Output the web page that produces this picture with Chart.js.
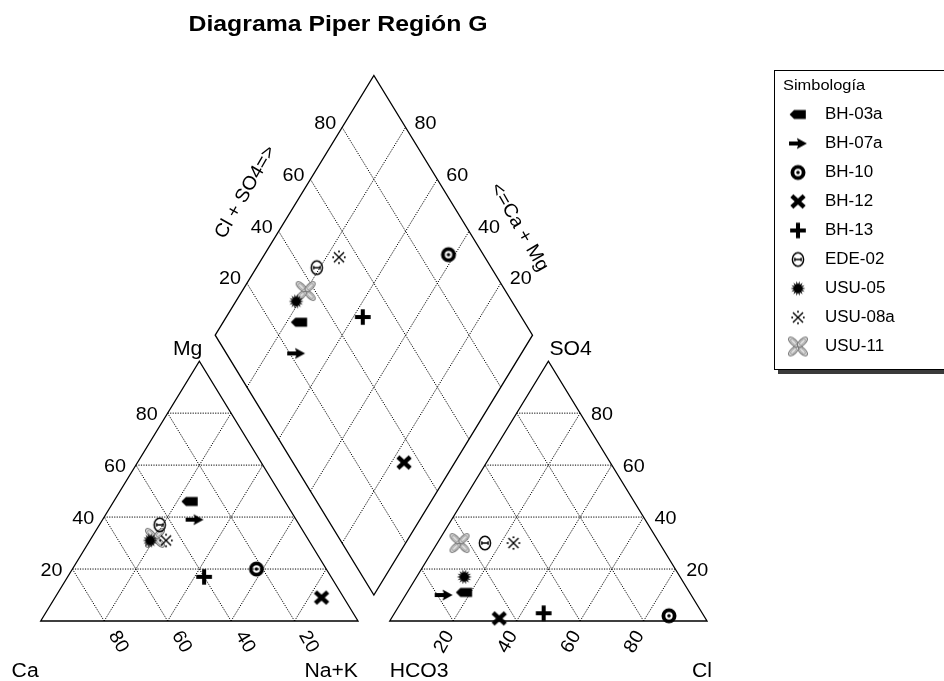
<!DOCTYPE html>
<html>
<head>
<meta charset="utf-8">
<title>Diagrama Piper Región G</title>
<script src="https://cdn.jsdelivr.net/npm/chart.js@4.4.1/dist/chart.umd.min.js"></script>
<style>
  html, body { margin: 0; padding: 0; background: #fff; overflow: hidden; }
  canvas { display: block; }
</style>
</head>
<body>
<canvas id="piper" width="944" height="681"></canvas>
<script>
// Sample names and their ionic composition (% meq/L)
const samples = ['BH-03a', 'BH-07a', 'BH-10', 'BH-12', 'BH-13', 'EDE-02', 'USU-05', 'USU-08a', 'USU-11'];
// Cations
const ca   = [30, 32, 22,  7, 40, 44, 50, 45, 48];
const mg   = [46, 39, 20,  9, 17, 37, 31, 31, 32];
const naK  = [24, 29, 58, 84, 43, 19, 19, 24, 20];
// Anions
const hco3 = [71, 78, 11, 65, 50, 55, 68, 46, 63];
const so4  = [11, 10,  2,  1,  3, 30, 17, 30, 30];
const cl   = [18, 12, 87, 34, 47, 15, 15, 24,  7];
// Percentage grid / tick labels
const gridTicks = [20, 40, 60, 80];

const TITLE = 'Diagrama Piper Región G';
const LEGEND_TITLE = 'Simbología';
const FONT = "'Liberation Sans', Arial, sans-serif";

// ---- Piper geometry (triangle side = 100 units) ----
const GAP = 10;
const H = 100 * Math.sqrt(3) / 2;
const GH = GAP * H / 100;

function cationXY(c, m, n) { return { x: n + m / 2, y: m * H / 100 }; }
function anionXY(h, s, c)  { return { x: 100 + GAP + c + s / 2, y: s * H / 100 }; }

const DL = { x: 50 + GAP / 2,  y: H + GH };       // diamond left corner
const DB = { x: 100 + GAP / 2, y: GH };           // diamond bottom corner
const DT = { x: 100 + GAP / 2, y: 2 * H + GH };   // diamond top corner
const DR = { x: 150 + GAP / 2, y: H + GH };       // diamond right corner

function diamondXY(nak, clso4) {
  return {
    x: DL.x + nak / 100 * (DB.x - DL.x) + clso4 / 100 * (DT.x - DL.x),
    y: DL.y + nak / 100 * (DB.y - DL.y) + clso4 / 100 * (DT.y - DL.y)
  };
}
function lerp(a, b, t) { return { x: a.x + (b.x - a.x) * t, y: a.y + (b.y - a.y) * t }; }

// ---- Marker symbols ----
function makeSymbol(draw) {
  const c = document.createElement('canvas');
  c.width = 28; c.height = 28;
  const g = c.getContext('2d');
  g.translate(14, 14);
  g.scale(1.12, 1.12);
  draw(g);
  return c;
}
const symbolDrawers = [
  g => { // BH-03a: tag pointing left
    g.fillStyle = '#000';
    g.beginPath();
    g.moveTo(-7.5, 0); g.lineTo(-3.5, -4); g.lineTo(7, -4); g.lineTo(7, 4); g.lineTo(-3.5, 4);
    g.closePath(); g.fill();
  },
  g => { // BH-07a: arrow to the right
    g.fillStyle = '#000';
    g.beginPath();
    g.moveTo(-8, -1.7); g.lineTo(0, -1.7); g.lineTo(-1, -4.8); g.lineTo(8, 0);
    g.lineTo(-1, 4.8); g.lineTo(0, 1.7); g.lineTo(-8, 1.7);
    g.closePath(); g.fill();
  },
  g => { // BH-10: bullseye
    g.strokeStyle = '#000'; g.lineWidth = 3.4;
    g.beginPath(); g.arc(0, 0, 5.0, 0, Math.PI * 2); g.stroke();
    g.fillStyle = '#000';
    g.beginPath(); g.arc(0, 0, 1.6, 0, Math.PI * 2); g.fill();
  },
  g => { // BH-12: bold cross
    g.strokeStyle = '#000'; g.lineWidth = 4; g.lineCap = 'butt';
    g.beginPath(); g.moveTo(-5.5, -5); g.lineTo(5.5, 5); g.moveTo(5.5, -5); g.lineTo(-5.5, 5); g.stroke();
  },
  g => { // BH-13: bold plus
    g.strokeStyle = '#000'; g.lineWidth = 3.6; g.lineCap = 'butt';
    g.beginPath(); g.moveTo(-7, 0); g.lineTo(7, 0); g.moveTo(0, -7); g.lineTo(0, 7); g.stroke();
  },
  g => { // EDE-02: theta
    g.strokeStyle = '#000'; g.lineWidth = 1.3;
    g.beginPath(); g.ellipse(0, 0, 5.0, 6, 0, 0, Math.PI * 2); g.stroke();
    g.lineWidth = 1.2;
    g.beginPath(); g.moveTo(-2.8, 0); g.lineTo(2.8, 0);
    g.moveTo(-2.8, -1.5); g.lineTo(-2.8, 1.5); g.moveTo(2.8, -1.5); g.lineTo(2.8, 1.5); g.stroke();
  },
  g => { // USU-05: starburst
    g.fillStyle = '#000';
    g.beginPath();
    const n = 14;
    for (let i = 0; i < n * 2; i++) {
      const r = i % 2 === 0 ? 6.6 : 3.7;
      const a = i * Math.PI / n;
      const x = r * Math.cos(a), y = r * Math.sin(a);
      if (i === 0) g.moveTo(x, y); else g.lineTo(x, y);
    }
    g.closePath(); g.fill();
  },
  g => { // USU-08a: reference mark
    g.strokeStyle = '#000'; g.lineWidth = 1.2;
    g.beginPath(); g.moveTo(-4.5, -4.5); g.lineTo(4.5, 4.5); g.moveTo(4.5, -4.5); g.lineTo(-4.5, 4.5); g.stroke();
    g.fillStyle = '#000';
    [[0, -5.2], [0, 5.2], [-5.2, 0], [5.2, 0]].forEach(([x, y]) => { g.beginPath(); g.arc(x, y, 0.9, 0, Math.PI * 2); g.fill(); });
  },
  g => { // USU-11: four grey petals
    for (let k = 0; k < 4; k++) {
      g.save();
      g.rotate(Math.PI / 4 + k * Math.PI / 2);
      g.fillStyle = '#e2e2e2'; g.strokeStyle = '#7a7a7a'; g.lineWidth = 1;
      g.beginPath(); g.ellipse(5.6, 0, 5.6, 2.6, 0, 0, Math.PI * 2); g.fill(); g.stroke();
      g.strokeStyle = '#9a9a9a'; g.lineWidth = 0.8;
      g.beginPath(); g.ellipse(5.6, 0, 3.6, 1.3, 0, 0, Math.PI * 2); g.stroke();
      g.restore();
    }
  }
];
const symbols = symbolDrawers.map(makeSymbol);

// ---- Datasets: cation point, anion point and diamond point for each sample ----
const datasets = samples.map((name, i) => ({
  label: name,
  data: [
    cationXY(ca[i], mg[i], naK[i]),
    anionXY(hco3[i], so4[i], cl[i]),
    diamondXY(naK[i], so4[i] + cl[i])
  ],
  pointStyle: symbols[i],
  pointRadius: 6,
  pointHoverRadius: 6,
  showLine: false,
  clip: false
}));

// ---- Drawing helpers ----
function drawText(ctx, str, x, y, o) {
  ctx.save();
  ctx.translate(x, y);
  if (o.rotate) ctx.rotate(o.rotate * Math.PI / 180);
  ctx.scale(o.sx || 1, 1);
  ctx.font = o.font;
  ctx.fillStyle = o.color || '#000';
  ctx.textAlign = o.align || 'left';
  ctx.textBaseline = o.baseline || 'middle';
  ctx.fillText(str, 0, 0);
  ctx.restore();
}

const piperFrame = {
  id: 'piperFrame',
  beforeDatasetsDraw(chart) {
    const ctx = chart.ctx;
    const sx = chart.scales.x, sy = chart.scales.y;
    const P = p => ({ x: sx.getPixelForValue(p.x), y: sy.getPixelForValue(p.y) });
    const seg = (a, b) => { const A = P(a), B = P(b); ctx.moveTo(A.x, A.y); ctx.lineTo(B.x, B.y); };
    const poly = pts => { ctx.beginPath(); pts.forEach((p, k) => { const Q = P(p); k ? ctx.lineTo(Q.x, Q.y) : ctx.moveTo(Q.x, Q.y); }); ctx.closePath(); ctx.stroke(); };

    ctx.save();
    // dotted grid
    ctx.strokeStyle = '#000';
    ctx.lineWidth = 1;
    ctx.setLineDash([1.2, 1.3]);
    ctx.beginPath();
    gridTicks.forEach(t => {
      // cation triangle
      seg(cationXY(100 - t, t, 0), cationXY(0, t, 100 - t));
      seg(cationXY(t, 0, 100 - t), cationXY(t, 100 - t, 0));
      seg(cationXY(100 - t, 0, t), cationXY(0, 100 - t, t));
      // anion triangle
      seg(anionXY(100 - t, t, 0), anionXY(0, t, 100 - t));
      seg(anionXY(t, 0, 100 - t), anionXY(t, 100 - t, 0));
      seg(anionXY(100 - t, 0, t), anionXY(0, 100 - t, t));
      // diamond
      seg(diamondXY(0, t), diamondXY(100, t));
      seg(diamondXY(t, 0), diamondXY(t, 100));
    });
    ctx.stroke();

    // outlines
    ctx.setLineDash([]);
    ctx.lineWidth = 1.3;
    poly([cationXY(100, 0, 0), cationXY(0, 100, 0), cationXY(0, 0, 100)]);
    poly([anionXY(100, 0, 0), anionXY(0, 100, 0), anionXY(0, 0, 100)]);
    poly([DL, DT, DR, DB]);

    // tick labels
    const f = '19px ' + FONT;
    const sxT = 1.04;
    gridTicks.forEach(t => {
      let q;
      q = P(cationXY(100 - t, t, 0));            // Mg on left side
      drawText(ctx, String(t), q.x - 10, q.y + 2, { font: f, align: 'right', sx: sxT });
      q = P(cationXY(t, 0, 100 - t));            // Ca along the base
      drawText(ctx, String(t), q.x + 14, q.y + 21, { font: f, align: 'center', rotate: 60, sx: sxT });
      q = P(anionXY(100 - t, 0, t));             // Cl along the base
      drawText(ctx, String(t), q.x - 9, q.y + 21, { font: f, align: 'center', rotate: -60, sx: sxT });
      q = P(anionXY(0, t, 100 - t));             // SO4 on right side
      drawText(ctx, String(t), q.x + 11, q.y + 2, { font: f, align: 'left', sx: sxT });
      q = P(lerp(DL, DT, t / 100));              // Cl + SO4 on diamond
      drawText(ctx, String(t), q.x - 6, q.y - 4, { font: f, align: 'right', sx: sxT });
      q = P(lerp(DR, DT, t / 100));              // Ca + Mg on diamond
      drawText(ctx, String(t), q.x + 9, q.y - 4, { font: f, align: 'left', sx: sxT });
    });

    // corner / axis names
    const fa = '20px ' + FONT;
    let q;
    q = P(cationXY(100, 0, 0)); drawText(ctx, 'Ca', q.x - 2, q.y + 56, { font: fa, align: 'right', baseline: 'alphabetic', sx: 1.06 });
    q = P(cationXY(0, 0, 100)); drawText(ctx, 'Na+K', q.x, q.y + 56, { font: fa, align: 'right', baseline: 'alphabetic', sx: 1.06 });
    q = P(cationXY(0, 100, 0)); drawText(ctx, 'Mg', q.x + 3, q.y - 6, { font: fa, align: 'right', baseline: 'alphabetic', sx: 1.06 });
    q = P(anionXY(100, 0, 0)); drawText(ctx, 'HCO3', q.x, q.y + 56, { font: fa, align: 'left', baseline: 'alphabetic', sx: 1.06 });
    q = P(anionXY(0, 0, 100)); drawText(ctx, 'Cl', q.x + 5, q.y + 56, { font: fa, align: 'right', baseline: 'alphabetic', sx: 1.06 });
    q = P(anionXY(0, 100, 0)); drawText(ctx, 'SO4', q.x + 1, q.y - 6, { font: fa, align: 'left', baseline: 'alphabetic', sx: 1.06 });

    // diamond axis names
    q = P(lerp(DL, DT, 0.5));
    drawText(ctx, 'Cl + SO4=>', q.x - 49, q.y - 13, { font: f, align: 'center', rotate: -60, sx: sxT });
    q = P(lerp(DR, DT, 0.5));
    drawText(ctx, '<=Ca + Mg', q.x + 66, q.y + 22, { font: f, align: 'center', rotate: 60, sx: sxT });
    ctx.restore();
  },
  afterDraw(chart) {
    const ctx = chart.ctx;
    ctx.save();
    // title
    const tf = 'bold 22px ' + FONT;
    ctx.font = tf;
    const w = ctx.measureText(TITLE).width;
    drawText(ctx, TITLE, 338, 31, { font: tf, align: 'center', baseline: 'alphabetic', sx: 299 / w });

    // legend box with shadow
    const bx = 774, by = 70, bw = 180, bh = 299;
    ctx.fillStyle = '#3a3a3a';
    ctx.fillRect(bx + 4, by + bh, bw, 5);
    ctx.fillRect(bx + bw, by + 4, 5, bh);
    ctx.fillStyle = '#fff';
    ctx.fillRect(bx, by, bw, bh);
    ctx.strokeStyle = '#000';
    ctx.lineWidth = 1;
    ctx.strokeRect(bx + 0.5, by + 0.5, bw, bh);
    drawText(ctx, LEGEND_TITLE, 783, 86, { font: '15.5px ' + FONT, align: 'left', sx: 1.06 });
    chart.data.datasets.forEach((ds, i) => {
      const y = 114.5 + i * 29;
      ctx.drawImage(ds.pointStyle, 798 - 14, y - 14);
      drawText(ctx, ds.label, 825, y, { font: '16px ' + FONT, align: 'left', sx: 1.06 });
    });
    ctx.restore();
  }
};

new Chart(document.getElementById('piper'), {
  type: 'scatter',
  data: { datasets },
  options: {
    responsive: false,
    animation: false,
    events: [],
    layout: { padding: 0, autoPadding: false },
    plugins: { legend: { display: false }, title: { display: false }, tooltip: { enabled: false } },
    scales: {
      x: { type: 'linear', display: false, min: -12.83, max: 284.68 },
      y: { type: 'linear', display: false, min: -20, max: 207 }
    }
  },
  plugins: [piperFrame]
});
</script>
</body>
</html>
